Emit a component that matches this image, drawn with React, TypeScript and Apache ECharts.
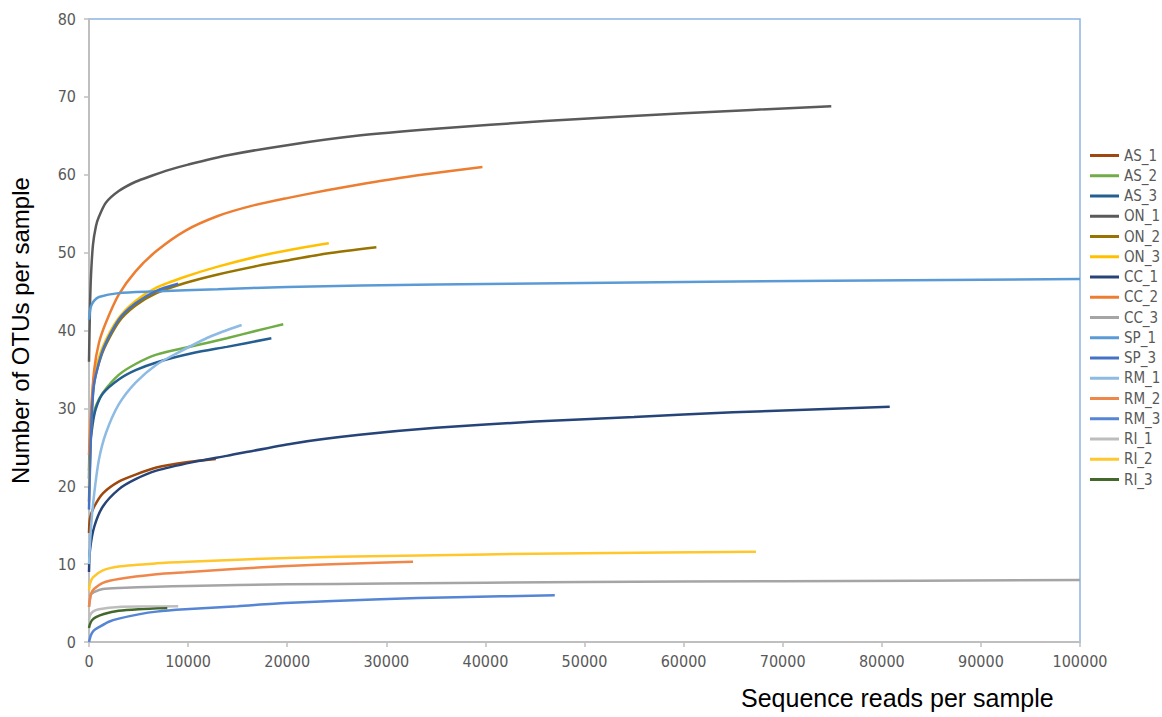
import React, { useEffect, useRef } from "react";
import * as echarts from "echarts";

const seriesNames = ["AS_1","AS_2","AS_3","ON_1","ON_2","ON_3","CC_1","CC_2","CC_3","SP_1","SP_3","RM_1","RM_2","RM_3","RI_1","RI_2","RI_3"];
const seriesColors = ["#9e480e","#70ad47","#255e91","#5a5a5a","#997300","#ffc000","#264478","#ed7d31","#a5a5a5","#5b9bd5","#4472c4","#8dbbe4","#f0874a","#5585d4","#bdbdbd","#ffc72c","#43682b"];

const AS_1 = [[0,14],[100,15.9],[530,17.4],[1400,19.1],[3000,20.6],[4700,21.5],[6800,22.4],[10000,23.1],[12800,23.5]];
const AS_2 = [[0,22],[100,26],[370,28.5],[700,30.3],[1400,32.0],[3000,34.3],[4700,35.7],[6800,36.9],[10500,38.0],[13900,39.0],[17000,40.0],[19600,40.8]];
const AS_3 = [[0,21],[100,25],[370,28],[700,30],[1400,31.9],[3000,33.7],[4700,34.9],[6800,35.9],[10500,37.1],[13900,37.9],[18400,39.0]];
const ON_1 = [[0,36],[100,43],[200,47],[400,51],[700,53.4],[1000,54.6],[1700,56.4],[3000,57.9],[4700,59.1],[6400,59.9],[8000,60.6],[10000,61.3],[14000,62.5],[20000,63.8],[27000,65.0],[35000,65.9],[46000,66.9],[60000,67.9],[74900,68.8]];
const ON_2 = [[0,18],[200,27],[500,33.2],[1400,37.3],[3000,41.1],[4700,43.2],[6800,44.8],[9700,46.1],[13000,47.2],[17000,48.3],[20000,49.0],[24000,49.9],[29000,50.7]];
const ON_3 = [[0,20],[200,28],[500,34],[1400,37.9],[3000,41.6],[4700,43.8],[6800,45.5],[9700,46.9],[13000,48.2],[17000,49.5],[20500,50.4],[24200,51.2]];
const CC_1 = [[0,9],[100,11.8],[530,14.8],[1400,17.4],[3000,19.6],[4700,20.9],[6800,22.0],[10500,23.1],[13900,23.9],[20600,25.5],[27300,26.6],[35000,27.5],[45000,28.3],[55000,28.9],[65000,29.5],[80800,30.2]];
const CC_2 = [[0,24],[200,29.5],[530,35],[1000,38.4],[1700,41.0],[3000,44.6],[4700,47.6],[6800,50.2],[9700,52.8],[13000,54.7],[16400,56.0],[20000,57.0],[24000,58.0],[28000,58.9],[33000,59.9],[39700,61.0]];
const CC_3 = [[0,4.5],[100,5.5],[200,6.1],[500,6.4],[1400,6.8],[3000,6.95],[6800,7.1],[10000,7.2],[20000,7.4],[30000,7.5],[50000,7.7],[70000,7.8],[100000,7.95]];
const SP_1 = [[0,41.4],[100,42.5],[200,43.1],[500,43.8],[1000,44.3],[3000,44.8],[6400,45.0],[13000,45.3],[20000,45.6],[35000,45.9],[50000,46.1],[75000,46.4],[100000,46.6]];
const SP_3 = [[0,17],[200,26.5],[500,33],[1400,37.5],[3000,41.4],[4700,43.5],[6800,45.1],[9000,46.0]];
const RM_1 = [[0,10],[200,14.7],[530,19.1],[1000,23.4],[1700,26.8],[3000,30.5],[4700,33.3],[6800,35.6],[8900,37.1],[12200,39.2],[15400,40.7]];
const RM_2 = [[0,4.5],[100,5.5],[200,6.2],[500,6.8],[1400,7.6],[3000,8.1],[6800,8.7],[9700,8.95],[15000,9.4],[20000,9.75],[26000,10.05],[32700,10.3]];
const RM_3 = [[0,0],[200,0.9],[500,1.5],[1000,1.9],[2000,2.6],[3000,3.0],[5000,3.55],[6800,3.9],[9700,4.2],[15000,4.6],[19800,5.0],[29400,5.5],[37000,5.75],[47000,6.0]];
const RI_1 = [[0,2.8],[100,3.4],[400,3.9],[1000,4.2],[3000,4.5],[6000,4.55],[9000,4.6]];
const RI_2 = [[0,6.6],[100,7.5],[400,8.3],[1400,9.2],[3000,9.7],[6800,10.1],[10000,10.3],[20000,10.8],[30000,11.05],[40000,11.25],[50000,11.4],[67300,11.6]];
const RI_3 = [[0,1.8],[100,2.3],[300,2.8],[700,3.2],[1500,3.6],[3000,4.0],[5000,4.2],[7900,4.35]];

const seriesData = [AS_1,AS_2,AS_3,ON_1,ON_2,ON_3,CC_1,CC_2,CC_3,SP_1,SP_3,RM_1,RM_2,RM_3,RI_1,RI_2,RI_3];

const xTitle = "Sequence reads per sample";
const yTitle = "Number of OTUs per sample";

const narrow = "'Liberation Sans Narrow', 'DejaVu Sans Condensed', 'Arial Narrow', sans-serif";
const sans = "'Liberation Sans', Arial, sans-serif";

export default function App() {
  const ref = useRef<HTMLDivElement>(null);
  useEffect(() => {
    document.body.style.margin = "0";
    const chart = echarts.init(ref.current!, undefined, { renderer: "svg" });
    chart.setOption({
      animation: false,
      backgroundColor: "#ffffff",
      grid: {
        left: 89, right: 82, top: 19, bottom: 75,
        containLabel: false, outerBoundsMode: "none",
        show: true, borderColor: "#8db4e2", borderWidth: 1.5, backgroundColor: "transparent",
      },
      legend: {
        orient: "vertical",
        left: 1090,
        top: 148,
        padding: 0,
        icon: "rect",
        itemWidth: 29,
        itemHeight: 3,
        itemGap: 5.25,
        data: seriesNames,
        textStyle: { fontFamily: narrow, fontSize: 15, color: "#595959", lineHeight: 14 },
      },
      xAxis: {
        type: "value", min: 0, max: 100000, interval: 10000,
        axisLine: { show: true, lineStyle: { color: "#bfbfbf", width: 2 } },
        axisTick: { show: true, length: 5, lineStyle: { color: "#bfbfbf", width: 1.5 } },
        splitLine: { show: false },
        axisLabel: { fontFamily: narrow, fontSize: 16, color: "#595959", margin: 11, formatter: (v: number) => String(v) },
      },
      yAxis: {
        type: "value", min: 0, max: 80, interval: 10,
        name: yTitle, nameLocation: "middle", nameGap: 57, nameRotate: 90,
        nameTextStyle: { fontFamily: sans, fontSize: 24, color: "#000000" },
        axisLine: { show: true, lineStyle: { color: "#bfbfbf", width: 2 } },
        axisTick: { show: true, length: 5, lineStyle: { color: "#bfbfbf", width: 1.5 } },
        splitLine: { show: false },
        axisLabel: { fontFamily: narrow, fontSize: 16, color: "#595959", margin: 13, formatter: (v: number) => String(v) },
      },
      graphic: [
        {
          type: "text", left: 741, top: 685,
          style: { text: xTitle, fontFamily: sans, fontSize: 25, fill: "#000000" },
        },
      ],
      series: seriesNames.map((name, i) => ({
        name,
        type: "line",
        data: seriesData[i],
        symbol: "none",
        smooth: 0.25,
        color: seriesColors[i],
        lineStyle: { width: 2.5, color: seriesColors[i] },
      })),
    });
    return () => chart.dispose();
  }, []);
  return <div ref={ref} style={{ position: "absolute", left: 0, top: 0, width: 1162, height: 717 }} />;
}
